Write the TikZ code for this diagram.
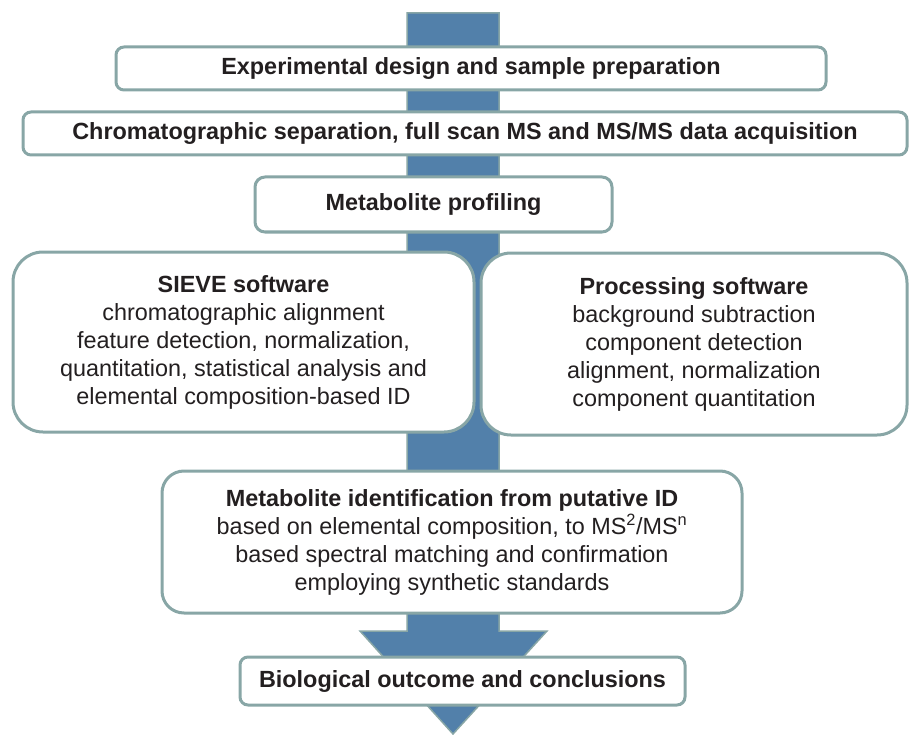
\documentclass[tikz,border=0pt]{standalone}
\usepackage{fontspec}
\setmainfont{Liberation Sans}
\definecolor{arrowblue}{HTML}{5280AA}
\definecolor{boxline}{HTML}{88A6A6}
\definecolor{inktext}{HTML}{231F20}

\begin{document}
\begin{tikzpicture}[x=1pt, y=-1pt,
    stage/.style={draw=boxline, line width=3pt, fill=white, rounded corners=8pt,
      inner sep=0pt, align=center, text=inktext, font=\fontsize{23.4}{28}\selectfont},
    panel/.style={stage, rounded corners=30pt}]
    \useasboundingbox (0,0) rectangle (909,735);

    % the big arrow running down behind all boxes
    \filldraw[fill=arrowblue, draw=boxline, line width=1.5pt]
      (407,13) -- (499,13) -- (499,631) -- (547,631) -- (453,734)
      -- (360,631) -- (407,631) -- cycle;

    % one-line steps
    \node[stage, minimum width=710pt, minimum height=43pt] (design) at (471,68.5)
      {\textbf{Experimental design and sample preparation}};
    \node[stage, minimum width=884pt, minimum height=43pt] (acquire) at (465,133.5)
      {\textbf{Chromatographic separation, full scan MS and MS/MS data acquisition}};
    \node[stage, minimum width=357pt, minimum height=55pt, rounded corners=10pt] (profiling) at (433.5,204.5)
      {\textbf{Metabolite profiling}};

    % the two software panels side by side
    \node[panel, minimum width=461pt, minimum height=180pt] (sieve) at (243.5,342)
      {\textbf{SIEVE software}\\chromatographic alignment\\feature detection, normalization,\\
       quantitation, statistical analysis and\\elemental composition-based ID};
    \node[panel, minimum width=426pt, minimum height=182pt] (process) at (694,344)
      {\textbf{Processing software}\\background subtraction\\component detection\\
       alignment, normalization\\component quantitation};

    % identification and outcome
    \node[panel, minimum width=580pt, minimum height=142pt, rounded corners=22pt] (ident) at (452,542)
      {\textbf{Metabolite identification from putative ID}\\
       based on elemental composition, to MS\textsuperscript{2}/MS\textsuperscript{n}\\
       based spectral matching and confirmation\\employing synthetic standards};
    \node[stage, minimum width=445pt, minimum height=48pt] (outcome) at (462.5,681)
      {\textbf{Biological outcome and conclusions}};
\end{tikzpicture}
\end{document}
